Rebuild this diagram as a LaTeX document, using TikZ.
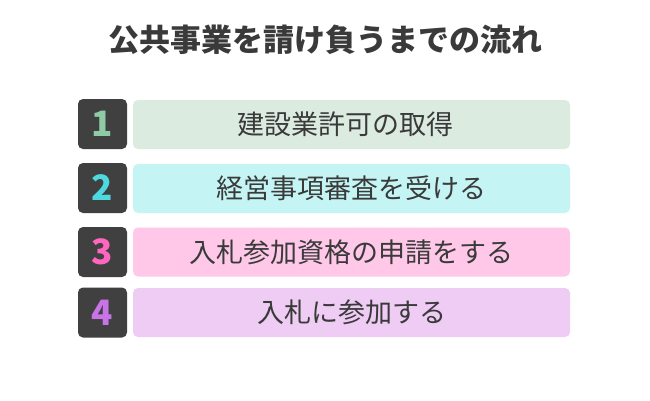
\documentclass[tikz,border=0pt]{standalone}
\usepackage{fontspec}
\setmainfont{Noto Sans CJK JP}
\definecolor{textgray}{HTML}{3A3A3A}
\definecolor{boxgray}{HTML}{404040}
\definecolor{numone}{HTML}{8FCBA5}
\definecolor{numtwo}{HTML}{4DD9DF}
\definecolor{numthree}{HTML}{FF66BF}
\definecolor{numfour}{HTML}{C873E6}
\definecolor{barone}{HTML}{DCEBE0}
\definecolor{bartwo}{HTML}{C4F5F4}
\definecolor{barthree}{HTML}{FFC8E8}
\definecolor{barfour}{HTML}{EECCF4}
\tikzset{
  numbox/.style={fill=boxgray,rounded corners=5pt,minimum width=49pt,minimum height=50pt,
    inner sep=0pt,font=\bfseries\fontsize{35}{35}\selectfont},
  stepbar/.style={rounded corners=5pt,minimum width=437pt,minimum height=49pt,
    inner sep=0pt,text=textgray,font=\fontsize{27}{27}\selectfont}
}
\begin{document}
\begin{tikzpicture}[x=1pt,y=-1pt]
\useasboundingbox[fill=white] (0,0) rectangle (650,400);
\node[text=textgray,font=\bfseries\fontsize{31}{31}\selectfont] (title) at (325,40) {公共事業を請け負うまでの流れ};

\node[numbox,text=numone] (n1) at (102.5,124) {1};
\node[stepbar,fill=barone] (s1) at (351.5,124.5) {建設業許可の取得\kern12pt};

\node[numbox,text=numtwo] (n2) at (102.5,188) {2};
\node[stepbar,fill=bartwo] (s2) at (351.5,188.5) {経営事項審査を受ける};

\node[numbox,text=numthree] (n3) at (102.5,252) {3};
\node[stepbar,fill=barthree] (s3) at (351.5,252) {入札参加資格の申請をする};

\node[numbox,text=numfour] (n4) at (102.5,312.5) {4};
\node[stepbar,fill=barfour] (s4) at (351.5,312.5) {入札に参加する};
\end{tikzpicture}
\end{document}
